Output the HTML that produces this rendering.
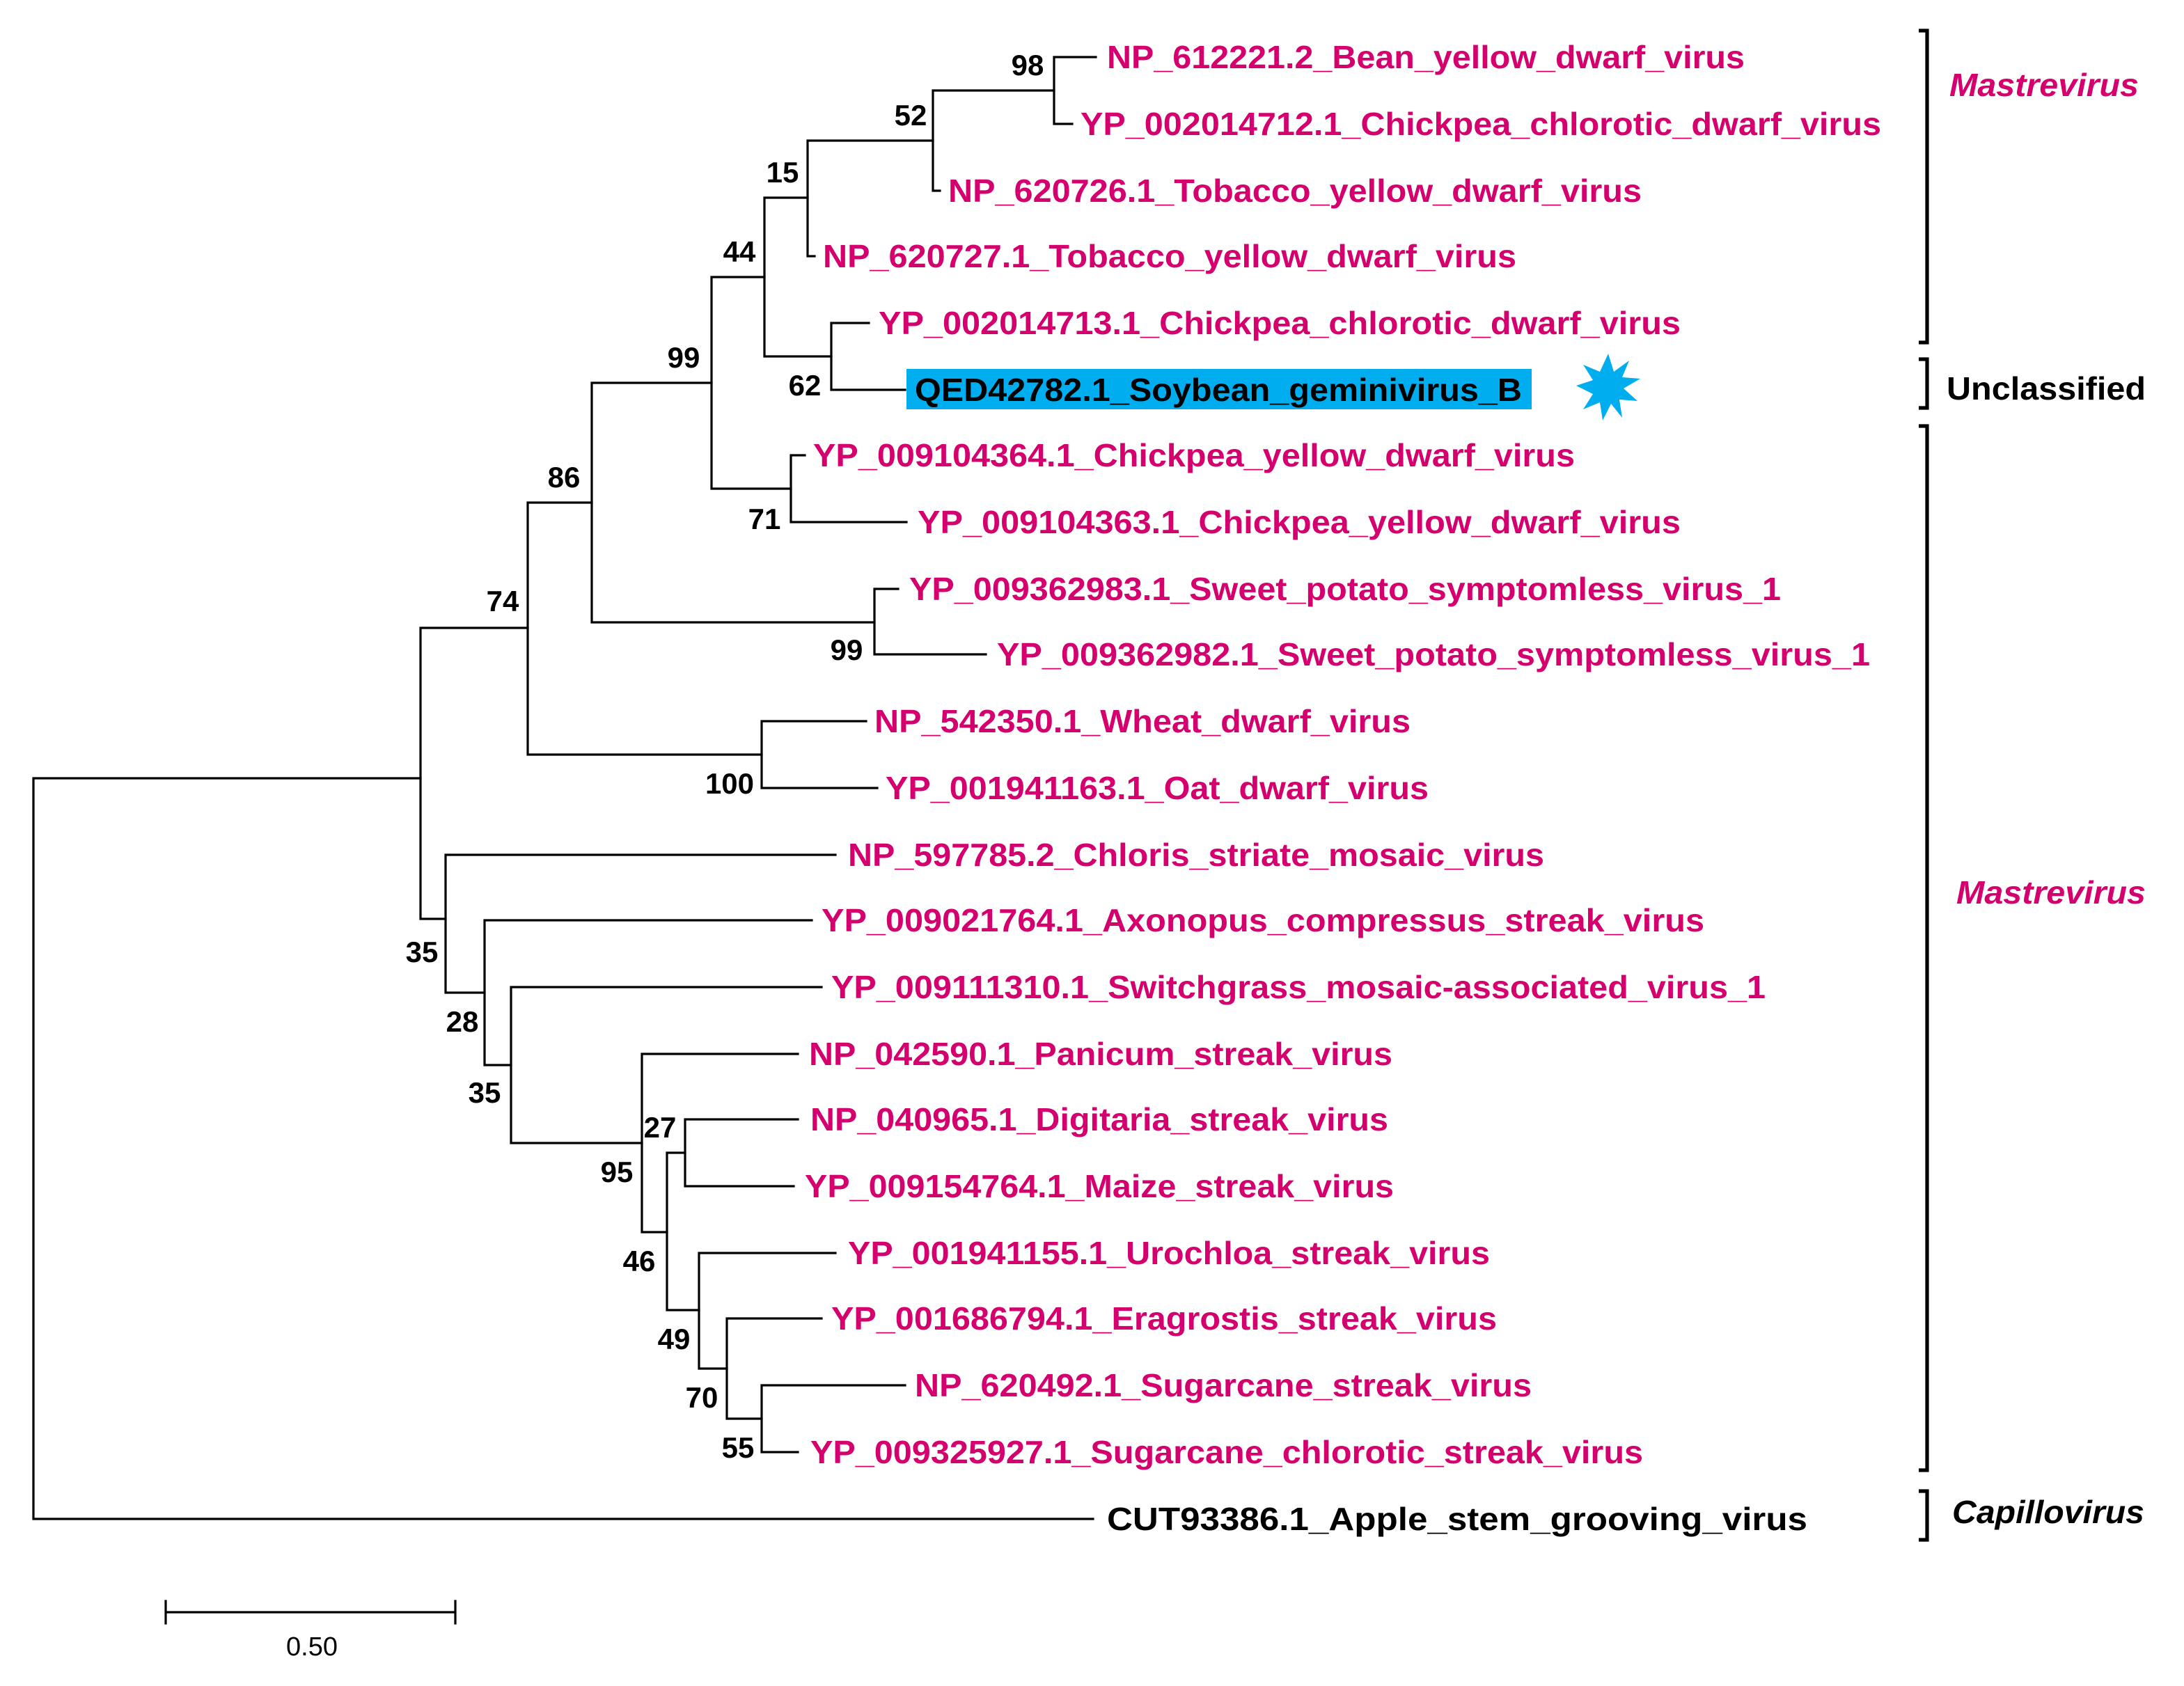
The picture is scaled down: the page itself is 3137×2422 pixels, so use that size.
<!DOCTYPE html>
<html><head><meta charset="utf-8"><style>html,body{margin:0;padding:0;background:#fff}svg{display:block}</style></head>
<body>
<svg width="3137" height="2422" viewBox="0 0 1568.5 1211" xmlns="http://www.w3.org/2000/svg">
<rect width="1568.5" height="1211" fill="#fff"/>
<g stroke="#000" stroke-width="1.6" fill="none" stroke-linecap="square">
<path d="M24 559V1091H785M24 559H302"/>
<path d="M302 451V660M302 451H379M302 660H320"/>
<path d="M379 361V542M379 361H425M379 542H547"/>
<path d="M547 518V566M547 518H622M547 566H630"/>
<path d="M425 275V447M425 275H511M425 447H628"/>
<path d="M628 423V470M628 423H645M628 470H708"/>
<path d="M511 199V351M511 199H549M511 351H568"/>
<path d="M568 327V375M568 327H578M568 375H651"/>
<path d="M549 142V256M549 142H580M549 256H597"/>
<path d="M597 232V280M597 232H624M597 280H650"/>
<path d="M580 101V184M580 101H670M580 184H585"/>
<path d="M670 65V137M670 65H757M670 137H675"/>
<path d="M757 41V89M757 41H787M757 89H770"/>
<path d="M320 614V713M320 614H600M320 713H348"/>
<path d="M348 661V765M348 661H583M348 765H367"/>
<path d="M367 709V821M367 709H590M367 821H461"/>
<path d="M461 757V885M461 757H573M461 885H479"/>
<path d="M479 828V941M479 828H492M479 941H502"/>
<path d="M492 804V852M492 804H573M492 852H570"/>
<path d="M502 900V983M502 900H600M502 983H522"/>
<path d="M522 947V1019M522 947H590M522 1019H547"/>
<path d="M547 995V1043M547 995H650M547 1043H573"/>
<path d="M119 1158H327M119 1150V1166M327 1150V1166"/>
</g>
<g stroke="#000" stroke-width="2.6" fill="none">
<path d="M1378 22H1384V246H1378"/>
<path d="M1378 258H1384V293H1378"/>
<path d="M1378 306H1384V1056H1378"/>
<path d="M1378 1071H1384V1106H1378"/>
</g>
<rect x="651" y="265" width="449" height="29" fill="#00aeef"/>
<polygon fill="#00aeef" points="1155,254 1159,267 1170,259 1165,271 1178,272 1166,279 1176,288 1163,287 1165,300 1157,290 1151,302 1149,289 1137,294 1144,283 1132,277 1144,273 1137,262 1149,267" />
<g font-family="'Liberation Sans',Arial,sans-serif" font-weight="bold" font-size="23" fill="#d4006e">
<text x="795" y="49" textLength="458" lengthAdjust="spacingAndGlyphs">NP_612221.2_Bean_yellow_dwarf_virus</text>
<text x="776" y="97" textLength="575" lengthAdjust="spacingAndGlyphs">YP_002014712.1_Chickpea_chlorotic_dwarf_virus</text>
<text x="681" y="145" textLength="498" lengthAdjust="spacingAndGlyphs">NP_620726.1_Tobacco_yellow_dwarf_virus</text>
<text x="591" y="192" textLength="498" lengthAdjust="spacingAndGlyphs">NP_620727.1_Tobacco_yellow_dwarf_virus</text>
<text x="631" y="240" textLength="576" lengthAdjust="spacingAndGlyphs">YP_002014713.1_Chickpea_chlorotic_dwarf_virus</text>
<text x="657" y="288" textLength="436" lengthAdjust="spacingAndGlyphs" fill="#000">QED42782.1_Soybean_geminivirus_B</text>
<text x="584" y="335" textLength="547" lengthAdjust="spacingAndGlyphs">YP_009104364.1_Chickpea_yellow_dwarf_virus</text>
<text x="659" y="383" textLength="548" lengthAdjust="spacingAndGlyphs">YP_009104363.1_Chickpea_yellow_dwarf_virus</text>
<text x="653" y="431" textLength="626" lengthAdjust="spacingAndGlyphs">YP_009362983.1_Sweet_potato_symptomless_virus_1</text>
<text x="716" y="478" textLength="627" lengthAdjust="spacingAndGlyphs">YP_009362982.1_Sweet_potato_symptomless_virus_1</text>
<text x="628" y="526" textLength="385" lengthAdjust="spacingAndGlyphs">NP_542350.1_Wheat_dwarf_virus</text>
<text x="636" y="574" textLength="390" lengthAdjust="spacingAndGlyphs">YP_001941163.1_Oat_dwarf_virus</text>
<text x="609" y="622" textLength="500" lengthAdjust="spacingAndGlyphs">NP_597785.2_Chloris_striate_mosaic_virus</text>
<text x="590" y="669" textLength="634" lengthAdjust="spacingAndGlyphs">YP_009021764.1_Axonopus_compressus_streak_virus</text>
<text x="597" y="717" textLength="671" lengthAdjust="spacingAndGlyphs">YP_009111310.1_Switchgrass_mosaic-associated_virus_1</text>
<text x="581" y="765" textLength="419" lengthAdjust="spacingAndGlyphs">NP_042590.1_Panicum_streak_virus</text>
<text x="582" y="812" textLength="415" lengthAdjust="spacingAndGlyphs">NP_040965.1_Digitaria_streak_virus</text>
<text x="578" y="860" textLength="423" lengthAdjust="spacingAndGlyphs">YP_009154764.1_Maize_streak_virus</text>
<text x="609" y="908" textLength="461" lengthAdjust="spacingAndGlyphs">YP_001941155.1_Urochloa_streak_virus</text>
<text x="597" y="955" textLength="478" lengthAdjust="spacingAndGlyphs">YP_001686794.1_Eragrostis_streak_virus</text>
<text x="657" y="1003" textLength="443" lengthAdjust="spacingAndGlyphs">NP_620492.1_Sugarcane_streak_virus</text>
<text x="582" y="1051" textLength="598" lengthAdjust="spacingAndGlyphs">YP_009325927.1_Sugarcane_chlorotic_streak_virus</text>
<text x="795" y="1099" textLength="503" lengthAdjust="spacingAndGlyphs" fill="#000">CUT93386.1_Apple_stem_grooving_virus</text>
<text x="1400" y="69" textLength="136" lengthAdjust="spacingAndGlyphs" font-style="italic">Mastrevirus</text>
<text x="1398" y="287" textLength="143" lengthAdjust="spacingAndGlyphs" fill="#000">Unclassified</text>
<text x="1405" y="649" textLength="136" lengthAdjust="spacingAndGlyphs" font-style="italic">Mastrevirus</text>
<text x="1402" y="1094" textLength="138" lengthAdjust="spacingAndGlyphs" font-style="italic" fill="#000">Capillovirus</text>
</g>
<g font-family="'Liberation Sans',Arial,sans-serif" font-weight="bold" font-size="21" fill="#000" text-anchor="middle">
<text x="738" y="54">98</text>
<text x="654" y="90">52</text>
<text x="562" y="131">15</text>
<text x="531" y="188">44</text>
<text x="491" y="264">99</text>
<text x="578" y="284">62</text>
<text x="405" y="350">86</text>
<text x="549" y="380">71</text>
<text x="361" y="439">74</text>
<text x="608" y="474">99</text>
<text x="524" y="570">100</text>
<text x="303" y="691">35</text>
<text x="332" y="741">28</text>
<text x="348" y="792">35</text>
<text x="474" y="817">27</text>
<text x="443" y="849">95</text>
<text x="459" y="913">46</text>
<text x="484" y="969">49</text>
<text x="504" y="1011">70</text>
<text x="530" y="1047">55</text>
</g>
<text x="224" y="1189" font-family="'Liberation Sans',Arial,sans-serif" font-size="19" text-anchor="middle" fill="#000">0.50</text>
</svg>
</body></html>
